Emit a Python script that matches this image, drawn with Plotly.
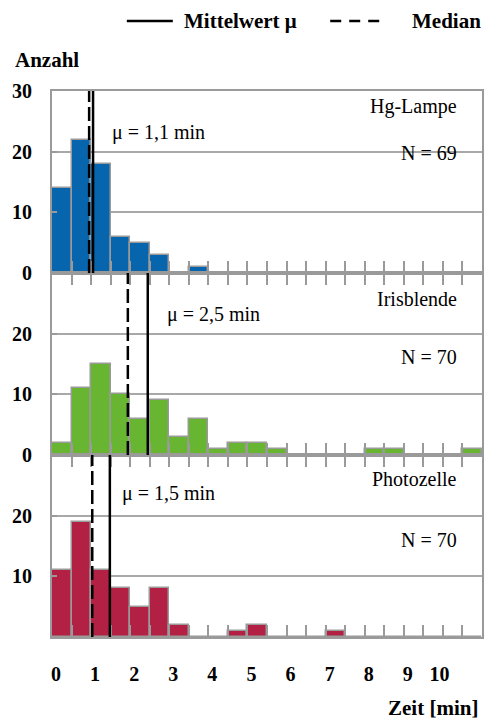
import plotly.graph_objects as go

# ---------------- data ----------------
bin_width = 0.5
bin_centers = [0.25 + 0.5 * i for i in range(22)]

hg_counts = [14, 22, 18, 6, 5, 3, 0, 1, 0, 0, 0, 0, 0, 0, 0, 0, 0, 0, 0, 0, 0, 0]
iris_counts = [2, 11, 15, 10, 6, 9, 3, 6, 1, 2, 2, 1, 0, 0, 0, 0, 1, 1, 0, 0, 0, 1]
photo_counts = [11, 19, 11, 8, 5, 8, 2, 0, 0, 1, 2, 0, 0, 0, 1, 0, 0, 0, 0, 0, 0, 0]

panel_names = ["Hg-Lampe", "Irisblende", "Photozelle"]
panel_n = ["N = 69", "N = 70", "N = 70"]
mean_labels = ["μ = 1,1 min", "μ = 2,5 min", "μ = 1,5 min"]
mean_pos = [1.05, 2.45, 1.48]
median_pos = [0.95, 1.94, 1.03]

x_tick_vals = [0.5 * i for i in range(22)]
x_tick_labels = ["0", "1", "2", "3", "4", "5", "6", "7", "8", "9", "10"]

# ---------------- styling ----------------
colors = ["#0765ad", "#67b530", "#b22043"]
grey = "#9a9a9a"
serif = "Liberation Serif"

x_tick_text = []
for v in x_tick_vals:
    if v == int(v):
        lab = x_tick_labels[int(v)]
        if len(lab) > 1:
            lab = lab + "\u00a0\u00a0\u00a0"  # nudge the two-digit label like the original
        x_tick_text.append(lab)
    else:
        x_tick_text.append("")

fig = go.Figure()

counts_all = [hg_counts, iris_counts, photo_counts]
xrefs = ["x", "x2", "x3"]
yrefs = ["y", "y2", "y3"]

for i in range(3):
    fig.add_trace(go.Bar(
        x=bin_centers, y=counts_all[i], width=bin_width,
        marker=dict(color=colors[i], line=dict(color=grey, width=1.5)),
        xaxis=xrefs[i], yaxis=yrefs[i], showlegend=False,
        hoverinfo="x+y",
    ))

common_x = dict(range=[0, 11], showline=True, linecolor=grey, linewidth=2,
                ticks="inside", ticklen=12, tickcolor=grey, tickwidth=2,
                tickvals=x_tick_vals, showgrid=False, zeroline=False,
                fixedrange=True, automargin=False)
common_y = dict(range=[0, 30], showline=True, linecolor=grey, linewidth=2,
                ticks="inside", ticklen=5, tickcolor=grey, tickwidth=2,
                showgrid=True, gridcolor="#a8a8a8", gridwidth=2,
                zeroline=False, ticklabelstandoff=14, automargin=False,
                tickfont=dict(family=serif, size=20, color="black", weight="bold"),
                fixedrange=True)

fig.update_layout(
    xaxis=dict(**common_x, anchor="y", mirror=True, showticklabels=False),
    xaxis2=dict(**common_x, anchor="y2", mirror="ticks", showticklabels=False, matches="x"),
    xaxis3=dict(**common_x, anchor="y3", mirror="ticks", ticktext=x_tick_text,
                ticklabelstandoff=18, ticklabelshift=4, matches="x",
                tickfont=dict(family=serif, size=20, color="black", weight="bold")),
    yaxis=dict(**common_y, domain=[2 / 3, 1], anchor="x", mirror=True,
               tickvals=[0, 10, 20, 30]),
    yaxis2=dict(**common_y, domain=[1 / 3, 2 / 3], anchor="x2", mirror=True,
                tickvals=[0, 10, 20]),
    yaxis3=dict(**common_y, domain=[0, 1 / 3], anchor="x3", mirror=True,
                tickvals=[10, 20]),
    bargap=0,
    width=485, height=720,
    margin=dict(l=52, r=3, t=91, b=83, autoexpand=False),
    plot_bgcolor="white", paper_bgcolor="white",
    font=dict(family=serif, size=20, color="black"),
    showlegend=False,
)

# mean / median lines
for i in range(3):
    fig.add_shape(type="line", xref=xrefs[i], yref=yrefs[i] + " domain",
                  x0=mean_pos[i], x1=mean_pos[i], y0=0, y1=1,
                  line=dict(color="black", width=2.5))
    fig.add_shape(type="line", xref=xrefs[i], yref=yrefs[i] + " domain",
                  x0=median_pos[i], x1=median_pos[i], y0=0, y1=1,
                  line=dict(color="black", width=2.5, dash="14px,5px"))

# panel annotations
name_y = [27.4, 25.7, 26.0]
n_y = [19.8, 16.1, 16.0]
mu_y = [23.2, 23.2, 23.7]
mu_shift = [17, 17, 10]
for i in range(3):
    fig.add_annotation(text=panel_names[i], xref=xrefs[i] + " domain", yref=yrefs[i],
                       x=1, y=name_y[i], xanchor="right", yanchor="middle",
                       xshift=-23, showarrow=False,
                       font=dict(family=serif, size=20, color="black"))
    fig.add_annotation(text=panel_n[i], xref=xrefs[i] + " domain", yref=yrefs[i],
                       x=1, y=n_y[i], xanchor="right", yanchor="middle",
                       xshift=-23, showarrow=False,
                       font=dict(family=serif, size=20, color="black"))
    fig.add_annotation(text=mean_labels[i], xref=xrefs[i], yref=yrefs[i],
                       x=mean_pos[i], y=mu_y[i], xanchor="left", yanchor="middle",
                       xshift=mu_shift[i], showarrow=False,
                       font=dict(family=serif, size=20, color="black"))

# axis titles
bold = dict(family=serif, size=20, color="black", weight="bold")
bold_leg = dict(family=serif, size=21, color="black", weight="bold")
fig.add_annotation(text="Anzahl", xref="paper", yref="paper", x=-0.0907, y=1.0568,
                   xanchor="left", yanchor="middle", showarrow=False, font=bold_leg)
fig.add_annotation(text="Zeit [min]", xref="paper", yref="paper", x=0.995, y=-0.13,
                   xanchor="right", yanchor="middle", showarrow=False, font=bold_leg)

# legend (manual)
leg_y = 1.128
fig.add_shape(type="line", xref="paper", yref="paper", x0=0.174, x1=0.281,
              y0=leg_y, y1=leg_y, line=dict(color="black", width=2.5))
fig.add_annotation(text="Mittelwert μ", xref="paper", yref="paper", x=0.302, y=leg_y,
                   xanchor="left", yanchor="middle", showarrow=False, font=bold_leg)
fig.add_shape(type="line", xref="paper", yref="paper", x0=0.647, x1=0.763,
              y0=leg_y, y1=leg_y, line=dict(color="black", width=2.5, dash="11px,8px"))
fig.add_annotation(text="Median", xref="paper", yref="paper", x=0.833, y=leg_y,
                   xanchor="left", yanchor="middle", showarrow=False, font=bold_leg)

fig.write_html("out.html",
               config={"displayModeBar": False},
               post_script="document.body.style.margin='0';document.body.style.overflow='hidden';")
